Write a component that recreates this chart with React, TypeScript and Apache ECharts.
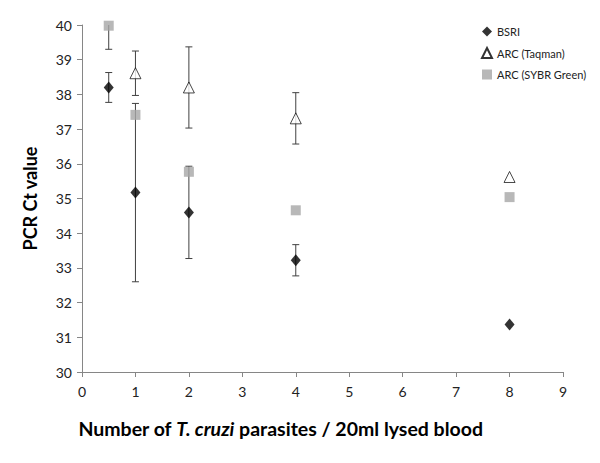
import React, { useEffect, useRef } from "react";
import * as echarts from "echarts";

const xTicks = [0, 1, 2, 3, 4, 5, 6, 7, 8, 9];
const bsriX = [0.5, 1, 2, 4, 8];
const bsriY = [38.2, 35.17, 34.6, 33.22, 31.37];
const bsriErr = [0.43, 2.57, 1.33, 0.45, 0];
const taqX = [1, 2, 4, 8];
const taqY = [38.61, 38.2, 37.31, 35.62];
const taqErr = [0.64, 1.17, 0.74, 0];
const sybrX = [0.5, 1, 2, 4, 8];
const sybrY = [39.98, 37.41, 35.77, 34.66, 35.04];
const sybrErr = [0.68, 0, 0, 0, 0];

const FONT = "Lato";

function errData(xs: number[], ys: number[], es: number[]) {
  const out: number[][] = [];
  xs.forEach((x, i) => {
    if (es[i] > 0) out.push([x, ys[i] - es[i], ys[i] + es[i]]);
  });
  return out;
}

function errSeries(data: number[][]) {
  return {
    type: "custom",
    silent: true,
    clip: true,
    z: 1,
    data,
    renderItem: (params: any, api: any) => {
      const x = api.value(0);
      const lo = api.coord([x, api.value(1)]);
      const hi = api.coord([x, api.value(2)]);
      const cap = 3.5;
      const st = { stroke: "#404040", lineWidth: 1 };
      return {
        type: "group",
        children: [
          { type: "line", shape: { x1: lo[0], y1: lo[1], x2: hi[0], y2: hi[1] }, style: st },
          { type: "line", shape: { x1: lo[0] - cap, y1: lo[1], x2: lo[0] + cap, y2: lo[1] }, style: st },
          { type: "line", shape: { x1: hi[0] - cap, y1: hi[1], x2: hi[0] + cap, y2: hi[1] }, style: st },
        ],
      };
    },
  };
}

export default function App() {
  const ref = useRef<HTMLDivElement>(null);
  useEffect(() => {
    const chart = echarts.init(ref.current!, undefined, { renderer: "svg" });
    chart.setOption({
      animation: false,
      backgroundColor: "#ffffff",
      grid: { left: 82, right: 37, top: 25, bottom: 91 },
      legend: {
        orient: "vertical",
        left: 476,
        top: 21,
        itemGap: 10,
        itemWidth: 10,
        itemHeight: 10,
        textStyle: { fontFamily: FONT, fontSize: 11, color: "#222" },
        data: ["BSRI", "ARC (Taqman)", "ARC (SYBR Green)"],
      },
      xAxis: {
        type: "value",
        min: 0,
        max: 9,
        interval: 1,
        splitLine: { show: false },
        axisLine: { lineStyle: { color: "#868686" } },
        axisTick: { show: true, length: 5, lineStyle: { color: "#868686" } },
        axisLabel: {
          fontFamily: FONT,
          fontSize: 14,
          color: "#222",
          margin: 12,
          formatter: (v: number) => (xTicks.includes(v) ? String(v) : ""),
        },
        name: "{b|Number of }{bi|T. cruzi}{b| parasites / 20ml lysed blood}",
        nameLocation: "middle",
        nameGap: 46,
        nameTextStyle: {
          padding: [0, 84, 0, 0],
          rich: {
            b: { fontFamily: FONT, fontSize: 19.5, fontWeight: "bold", color: "#000" },
            bi: { fontFamily: FONT, fontSize: 19.5, fontWeight: "bold", fontStyle: "italic", color: "#000" },
          },
        },
      },
      yAxis: {
        type: "value",
        min: 30,
        max: 40,
        interval: 1,
        splitLine: { show: false },
        axisLine: { show: true, lineStyle: { color: "#868686" } },
        axisTick: { show: true, length: 5, lineStyle: { color: "#868686" } },
        axisLabel: { fontFamily: FONT, fontSize: 14, color: "#222", margin: 10 },
        name: "PCR Ct value",
        nameLocation: "middle",
        nameGap: 43,
        nameTextStyle: { fontFamily: FONT, fontSize: 18, fontWeight: "bold", color: "#000" },
      },
      series: [
        errSeries(errData(bsriX, bsriY, bsriErr)),
        errSeries(errData(taqX, taqY, taqErr)),
        errSeries(errData(sybrX, sybrY, sybrErr)),
        {
          name: "ARC (SYBR Green)",
          type: "scatter",
          symbol: "rect",
          symbolSize: 10,
          z: 3,
          itemStyle: { color: "#a6a6a6" },
          data: sybrX.map((x, i) => [x, sybrY[i]]),
        },
        {
          name: "ARC (Taqman)",
          type: "scatter",
          symbol: "triangle",
          symbolSize: 11,
          z: 4,
          itemStyle: { color: "#ffffff", borderColor: "#000", borderWidth: 0.9 },
          data: taqX.map((x, i) => [x, taqY[i]]),
        },
        {
          name: "BSRI",
          type: "scatter",
          symbol: "diamond",
          symbolSize: [10, 12],
          z: 5,
          itemStyle: { color: "#000" },
          data: bsriX.map((x, i) => [x, bsriY[i]]),
        },
      ],
    });
    return () => chart.dispose();
  }, []);
  return <div ref={ref} style={{ width: 600, height: 463, position: "absolute", left: 0, top: 0 }} />;
}
